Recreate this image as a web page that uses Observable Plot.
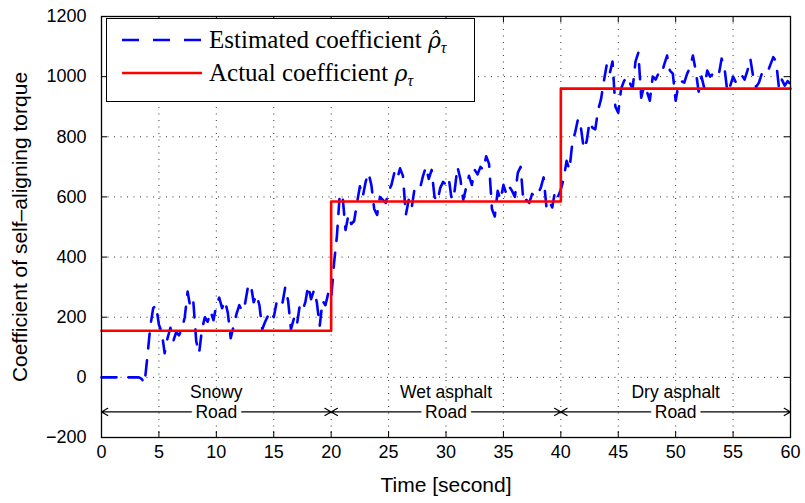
<!DOCTYPE html>
<html><head><meta charset="utf-8">
<script src="https://cdn.jsdelivr.net/npm/d3@7"></script>
<script src="https://cdn.jsdelivr.net/npm/@observablehq/plot@0.6"></script>
<style>
body{margin:0;background:#fff;}
#wrap{position:relative;width:805px;height:503px;}
#legend{position:absolute;left:106px;top:18px;width:369px;height:84px;border:1.3px solid #000;background:#fff;box-sizing:border-box;font-family:"Liberation Serif","DejaVu Serif",serif;font-size:25px;color:#000;}
#legend .row{position:absolute;left:0;height:32px;width:100%;}
#legend svg{position:absolute;left:15px;top:0;}
#legend span.t{position:absolute;left:102px;top:0;white-space:nowrap;line-height:32px;}
#legend sub{font-size:16px;vertical-align:-5px;line-height:0;}
#legend .m{font-family:"DejaVu Serif",serif;font-style:italic;font-size:22px;}
</style></head><body><div id="wrap"></div>
<script>
// ---- data ----
const xTicks = [0, 5, 10, 15, 20, 25, 30, 35, 40, 45, 50, 55, 60];
const yTicks = [-200, 0, 200, 400, 600, 800, 1000, 1200];
const actualTime = [0, 20, 20, 40, 40, 60];
const actualValue = [155, 155, 585, 585, 960, 960];
const roadNames = ["Snowy", "Wet asphalt", "Dry asphalt"];
const roadStart = [0, 20, 40];
const roadEnd = [20, 40, 60];
const roadArrowLevel = -115;
const estStart = 0, estStep = 0.25;
const estValues = [
  0,0,0,0, 0,0,0,0, 0,0,0,0, 0,0,-5,-20,
  70,170,230,240, 175,150,80,130, 165,120,150,140, 160,200,285,230,
  250,120,80,160, 200,185,220,190, 240,265,230,255, 215,130,170,210,
  240,220,245,300, 310,250,275,240, 160,185,205,220, 200,250,260,245,
  300,255,160,195, 170,235,220,250, 305,260,290,250, 170,255,240,280,
  260,380,470,610, 600,490,540,510, 520,580,635,600, 650,680,640,560,
  540,600,590,580, 620,640,680,660, 695,670,540,590, 560,625,620,630,
  670,700,660,690, 600,585,630,650, 640,660,590,620, 700,660,590,630,
  670,640,690,675, 700,690,735,710, 560,535,620,590, 640,610,635,620,
  600,680,700,580, 590,580,610,600, 610,630,665,565, 585,565,620,600,
  625,660,720,690, 780,815,860,830, 760,785,850,830, 825,890,925,985,
  1040,1010,1050,900, 880,960,985,1000, 980,960,1050,1080, 930,970,950,920,
  1000,990,1010,1005, 1040,1070,1020,1010, 920,975,985,980, 1010,1030,1070,1020,
  950,1000,960,1020, 1000,1010,1015,1005, 1060,1030,950,970, 1000,980,995,1005,
  990,1020,1060,1000, 965,980,1010,1005, 1015,1040,1065,1050, 960,990,970,985,
  975
];

// ---- tables ----
const est = estValues.map((v, i) => ({t: estStart + i * estStep, v}));
const actual = actualTime.map((t, i) => ({t, v: actualValue[i]}));
const roads = roadNames.map((name, i) => ({name, a: roadStart[i], b: roadEnd[i], c: (roadStart[i] + roadEnd[i]) / 2}));
const arrows = roads.flatMap(r => [{x1: r.c, x2: r.a}, {x1: r.c, x2: r.b}]);

const W = 805, H = 503, mL = 101, mR = 15, mT = 16, mB = 66;
const pw = W - mL - mR, ph = H - mT - mB, tk = 6;
const dotted = {stroke: "#333", strokeWidth: 1, strokeDasharray: "1,5.5"};
const fmt = d3.format("d");

const chart = Plot.plot({
  width: W, height: H,
  marginLeft: mL, marginRight: mR, marginTop: mT, marginBottom: mB,
  style: {fontFamily: "'Liberation Sans', Arial, sans-serif", fontSize: "18px", background: "#fff", color: "#000"},
  x: {domain: [0, 60]},
  y: {domain: [-200, 1200]},
  marks: [
    Plot.ruleX(xTicks, dotted),
    Plot.ruleY(yTicks, dotted),
    Plot.ruleX(xTicks, {stroke: "#000", insetTop: ph - tk}),
    Plot.ruleX(xTicks, {stroke: "#000", insetBottom: ph - tk}),
    Plot.ruleY(yTicks, {stroke: "#000", insetRight: pw - tk}),
    Plot.ruleY(yTicks, {stroke: "#000", insetLeft: pw - tk}),
    Plot.arrow(arrows, {x1: "x1", x2: "x2", y1: roadArrowLevel, y2: roadArrowLevel, stroke: "#000", strokeWidth: 1.2, headLength: 9}),
    Plot.text(roads, {x: "c", y: roadArrowLevel, text: d => "Road", fill: "#000", stroke: "#fff", strokeWidth: 10, fontSize: 17.5}),
    Plot.text(roads, {x: "c", y: roadArrowLevel, text: "name", fill: "#000", dy: -20, fontSize: 17.5}),
    Plot.line(est, {x: "t", y: "v", stroke: "#0000ff", strokeWidth: 2.6, strokeDasharray: "15,12", strokeLinejoin: "round"}),
    Plot.line(actual, {x: "t", y: "v", stroke: "#ff0000", strokeWidth: 2.6}),
    Plot.frame({stroke: "#000", strokeWidth: 1.3}),
    Plot.axisX(xTicks, {tickSize: 0, tickPadding: 8, fontSize: 18, tickFormat: fmt, label: null}),
    Plot.axisY(yTicks, {tickSize: 0, tickPadding: 15, fontSize: 18, tickFormat: fmt, label: null}),
    Plot.axisX({ticks: [], tickSize: 0, label: "Time [second]", labelAnchor: "center", labelArrow: "none", labelOffset: 54, fontSize: 21}),
    Plot.axisY({ticks: [], tickSize: 0, label: "Coefficient of self\u2013aligning torque", labelAnchor: "center", labelArrow: "none", labelOffset: 89, fontSize: 21})
  ]
});
const wrap = document.getElementById("wrap");
wrap.appendChild(chart);

const legend = document.createElement("div");
legend.id = "legend";
legend.innerHTML = `
<div class="row" style="top:5px"><svg width="80" height="32"><line x1="0" y1="16" x2="80" y2="16" stroke="#0000ff" stroke-width="2.6" stroke-dasharray="17,14"/></svg><span class="t">Estimated coefficient <span class="m">\u03C1\u0302</span><sub><i>\u03C4</i></sub></span></div>
<div class="row" style="top:38px"><svg width="80" height="32"><line x1="0" y1="16" x2="80" y2="16" stroke="#ff0000" stroke-width="2.6"/></svg><span class="t">Actual coefficient <span class="m">\u03C1</span><sub><i>\u03C4</i></sub></span></div>`;
wrap.appendChild(legend);
</script>
</body></html>
